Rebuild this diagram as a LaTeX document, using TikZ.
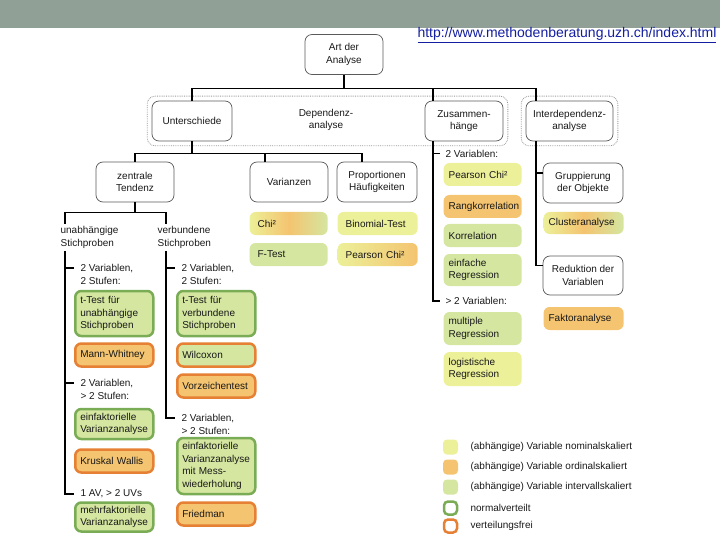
\documentclass[tikz,border=0pt]{standalone}
\usepackage{fontspec}
\setmainfont{Liberation Sans}
\usetikzlibrary{fit}
\definecolor{ylw}{RGB}{236,240,152}
\definecolor{orn}{RGB}{244,196,112}
\definecolor{grn}{RGB}{212,230,160}
\definecolor{grnline}{RGB}{122,172,86}
\definecolor{ornline}{RGB}{230,128,52}
\definecolor{boxgray}{RGB}{90,90,90}
\definecolor{bargray}{RGB}{145,160,150}
\definecolor{urlblue}{RGB}{20,30,160}

\begin{document}
\begin{tikzpicture}[x=1pt,y=-1pt,line width=1.2pt,
	font=\fontsize{10}{12.5}\selectfont,text=black!90,
	box/.style={draw=boxgray,line width=0.7pt,fill=white,rounded corners=7pt,align=center,minimum width=78pt,minimum height=40pt,inner sep=2pt},
	group/.style={draw=gray!80,densely dotted,line width=0.8pt,rounded corners=8pt,inner sep=4.5pt},
	test/.style={rounded corners=6pt,align=left,text width=68pt,inner xsep=5pt,inner ysep=2pt,minimum height=23pt,anchor=west},
	nom/.style={test,fill=ylw},
	ord/.style={test,fill=orn},
	int/.style={test,fill=grn},
	nv/.style={draw=grnline,line width=2.5pt},
	vf/.style={draw=ornline,line width=2.5pt},
	lbl/.style={align=left,inner xsep=6pt,inner ysep=1pt,anchor=west},
	key/.style={minimum size=15pt,inner sep=0pt,rounded corners=4pt}]
	\useasboundingbox (0,0) rectangle (720,540);
	\fill[bargray] (0,0) rectangle (720,28.5);
	\node[anchor=base east,inner sep=0pt,text=urlblue,font=\fontsize{14}{16}\selectfont] (url) at (717,37.5) {\underline{http://www.methodenberatung.uzh.ch/index.html}};
	
	\node[box] (art) at (344,54.5) {Art der\\Analyse};
	\node[box,minimum width=80pt] (unterschiede) at (192,121) {Unterschiede};
	\node[box] (zusammen) at (464,121) {Zusammen-\\hänge};
	\node[box,minimum width=87pt] (interdep) at (569.5,121) {Interdependenz-\\analyse};
	\node[align=center] (dependenz) at (326,120) {Dependenz-\\analyse};
	\node[group,fit=(unterschiede)(zusammen)] (dep group) {};
	\node[group,fit=(interdep)] (interdep group) {};
	
	\draw (art.south) -- +(0,14) coordinate (art bar);
	\draw (unterschiede.north) |- (art bar) -| ([xshift=-31pt]zusammen.north);
	\draw (art bar) -| ([xshift=-33.5pt]interdep.north);
	
	\node[box] (tendenz) at (135,182) {zentrale\\Tendenz};
	\node[box] (varianzen) at (289,182) {Varianzen};
	\node[box,minimum width=80pt] (proportionen) at (377,182) {Proportionen\\Häufigkeiten};
	\draw (unterschiede.south) -- +(0,12) coordinate (unt bar);
	\draw (tendenz.north) |- (unt bar) -| ([xshift=-24pt]varianzen.north);
	\draw (unt bar) -| ([xshift=-15pt]proportionen.north);
	
	\node[align=left,inner sep=2pt,anchor=north west] (unabh) at (58,224) {unabhängige\\Stichproben};
	\node[align=left,inner sep=2pt,anchor=north west] (verb) at (155,224) {verbundene\\Stichproben};
	\draw (tendenz.south) -- +(0,10) coordinate (ten bar);
	\draw ([xshift=7pt]unabh.north west) |- (ten bar) -| ([xshift=11pt]verb.north west);
	\coordinate (ua line) at ([xshift=7pt]unabh.south west);
	\coordinate (vb line) at ([xshift=11pt]verb.south west);
	
	\node[lbl] (ua one) at (74,274.5) {2 Variablen,\\2 Stufen:};
	\node[lbl] (ua two) at (74,389.5) {2 Variablen,\\> 2 Stufen:};
	\node[lbl] (ua three) at (74,494) {1 AV, > 2 UVs};
	\draw (ua line) |- ([yshift=6.5pt]ua one.west);
	\draw (ua line) |- ([yshift=6.5pt]ua two.west);
	\draw (ua line) |- (ua three.west);
	
	\node[lbl] (vb one) at (175,274.5) {2 Variablen,\\2 Stufen:};
	\node[lbl] (vb two) at (175,424.5) {2 Variablen,\\> 2 Stufen:};
	\draw (vb line) |- ([yshift=6.5pt]vb one.west);
	\draw (vb line) |- ([yshift=6.5pt]vb two.west);
	
	\node[int,nv,minimum height=45pt] (ttest ua) at (74,313.5) {t-Test für\\unabhängige\\Stichproben};
	\node[ord,vf] (mann) at (74,355) {Mann-Whitney};
	\node[int,nv,minimum height=30pt] (einf ua) at (74,424) {einfaktorielle\\Varianzanalyse};
	\node[ord,vf] (kruskal) at (74,461) {Kruskal Wallis};
	\node[int,nv,minimum height=29pt] (mehrf) at (74,517) {mehrfaktorielle\\Varianzanalyse};
	
	\node[int,nv,minimum height=45pt] (ttest vb) at (176,313.5) {t-Test für\\verbundene\\Stichproben};
	\node[int,vf] (wilcoxon) at (176,355) {Wilcoxon};
	\node[ord,vf] (vorzeichen) at (176,386) {Vorzeichentest};
	\node[int,nv,minimum height=56pt] (einf vb) at (176,466) {einfaktorielle\\Varianzanalyse\\mit Mess-\\wiederholung};
	\node[ord,vf] (friedman) at (176,514) {Friedman};
	
	\node[test,text width=62pt,inner xsep=8pt,left color=ylw,right color=grn,middle color=orn] (chi) at (249,223.5) {Chi²};
	\node[int,text width=62pt,inner xsep=8pt] (ftest) at (249,254.5) {F-Test};
	\node[nom,text width=64pt,inner xsep=8pt] (binom) at (337,223.5) {Binomial-Test};
	\node[test,text width=64pt,inner xsep=8pt,left color=ylw,right color=orn] (pearson p) at (337,254.5) {Pearson Chi²};
	
	\coordinate (zus line) at ([xshift=-31pt]zusammen.south);
	\node[lbl,inner xsep=5pt] (zs one) at (440,153.5) {2 Variablen:};
	\node[lbl,inner xsep=5pt] (zs two) at (440,301) {> 2 Variablen:};
	\draw (zus line) |- (zs one.west);
	\draw (zus line) |- (zs two.west);
	
	\node[nom] (pearson z) at (443,174.5) {Pearson Chi²};
	\node[ord] (rang) at (443,206.5) {Rangkorrelation};
	\node[int] (korr) at (443,235.5) {Korrelation};
	\node[int,minimum height=32pt] (einfreg) at (443,270) {einfache\\Regression};
	\node[int,minimum height=33pt] (multreg) at (443,328.5) {multiple\\Regression};
	\node[nom,minimum height=34pt] (logreg) at (443,369) {logistische\\Regression};
	
	\node[box,minimum width=80pt] (gruppierung) at (583,183) {Gruppierung\\der Objekte};
	\node[test,text width=70pt,left color=ylw,right color=grn,middle color=orn,minimum height=22pt] (cluster) at (543,223) {Clusteranalyse};
	\node[box,minimum width=80pt,minimum height=39pt] (reduktion) at (583,275.5) {Reduktion der\\Variablen};
	\node[ord,text width=70pt] (faktor) at (543,318.5) {Faktoranalyse};
	\coordinate (int line) at ([xshift=-33.5pt]interdep.south);
	\draw (int line) |- ([yshift=10pt]gruppierung.west);
	\draw (int line) |- ([yshift=10pt]reduktion.west);
	
	\foreach \c/\t [count=\n] in {ylw/{(abhängige) Variable nominalskaliert},orn/{(abhängige) Variable ordinalskaliert},grn/{(abhängige) Variable intervallskaliert}}{
		\node[key,fill=\c] (key \n) at (450.5,{427+20*\n}) {};
		\node[anchor=west,inner xsep=0pt] (legend \n) at (470,{427+20*\n}) {\t};
	}
	\foreach \c/\t [count=\n from 4] in {grnline/normalverteilt,ornline/verteilungsfrei}{
		\node[key,minimum size=13pt,fill=white,draw=\c,line width=2.5pt] (key \n) at (450.5,{436+18*\n}) {};
		\node[anchor=west,inner xsep=0pt] (legend \n) at (470,{436+18*\n}) {\t};
	}
	
\end{tikzpicture}
\end{document}
